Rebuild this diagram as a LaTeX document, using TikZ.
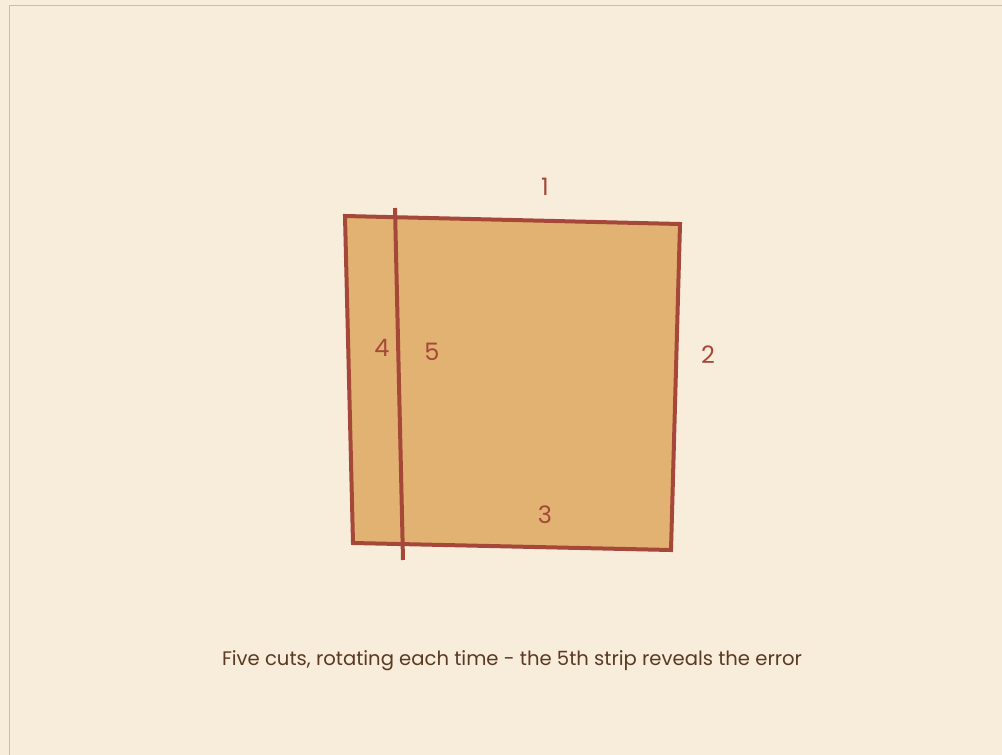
\documentclass[tikz,border=0pt]{standalone}
\usepackage{fontspec}
\setmainfont{Poppins}
\definecolor{bg}{HTML}{F8EDDB}
\definecolor{frame}{HTML}{D5B99B}
\definecolor{paper}{HTML}{E2B273}
\definecolor{cut}{HTML}{A5483A}
\definecolor{capt}{HTML}{5A3A22}
\begin{document}
\begin{tikzpicture}[x=1pt,y=-1pt,
  edge/.style={draw=cut,line width=4pt},
  num/.style={text=cut,font=\fontsize{24}{28}\selectfont,inner sep=0pt},
  capstyle/.style={text=capt,font=\fontsize{19.6}{23}\selectfont,inner sep=0pt}]
\useasboundingbox (0,0) rectangle (1002,755);
\fill[bg] (0,0) rectangle (1002,755);
\draw[frame,line width=1.5pt] (9.5,760) -- (9.5,5.5) -- (1010,5.5);
\coordinate (tl) at (345,216);
\coordinate (tr) at (680,224);
\coordinate (br) at (671,550);
\coordinate (bl) at (353,543);
\coordinate (ct) at (395,208);
\coordinate (cb) at (403,560);
\filldraw[fill=paper,edge,line join=miter] (tl) -- (tr) -- (br) -- (bl) -- cycle;
\draw[edge] (ct) -- (cb);
\node[num] (n1) at (545,187) {1};
\node[num] (n2) at (708,355) {2};
\node[num] (n3) at (545,515) {3};
\node[num] (n4) at (382,348) {4};
\node[num] (n5) at (432,352) {5};
\node[capstyle] (caption) at (512,661) {Five cuts, rotating each time - the 5th strip reveals the error};
\end{tikzpicture}
\end{document}
